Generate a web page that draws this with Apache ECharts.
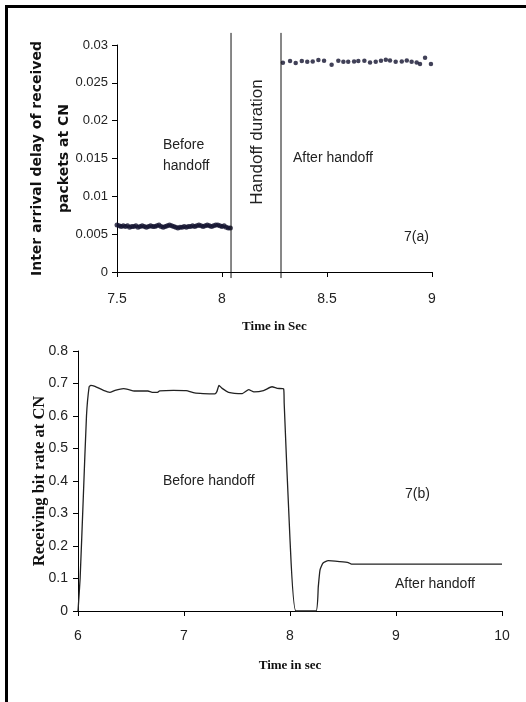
<!DOCTYPE html>
<html>
<head>
<meta charset="utf-8">
<script src="https://cdn.jsdelivr.net/npm/echarts@6/dist/echarts.min.js"></script>
<style>
  html, body { margin: 0; padding: 0; background: #fff; }
  #chart { width: 526px; height: 702px; }
  .frame { position: absolute; left: 5px; top: 5px; right: 0; bottom: 0; border-top: 3px solid #000; border-left: 3px solid #000; pointer-events: none; }
</style>
</head>
<body>
<div id="chart"></div>
<div class="frame"></div>
<script>
// 7(a) inter arrival delay, before handoff (dense samples)
const beforeX = [7.50,7.51,7.52,7.53,7.54,7.55,7.56,7.57,7.58,7.59,
  7.60,7.61,7.62,7.63,7.64,7.65,7.66,7.67,7.68,7.69,
  7.70,7.71,7.72,7.73,7.74,7.75,7.76,7.77,7.78,7.79,
  7.80,7.81,7.82,7.83,7.84,7.85,7.86,7.87,7.88,7.89,
  7.90,7.91,7.92,7.93,7.94,7.95,7.96,7.97,7.98,7.99,
  8.00,8.01,8.02,8.03,8.04]
const beforeY = [0.0062,0.0061,0.0060,0.0061,0.0060,0.0061,0.0059,0.0060,0.0060,0.0061,
  0.0059,0.0060,0.0061,0.0060,0.0059,0.0060,0.0061,0.0060,0.0060,0.0061,
  0.0062,0.0060,0.0059,0.0060,0.0061,0.0062,0.0061,0.0060,0.0059,0.0058,
  0.0059,0.0059,0.0060,0.0059,0.0060,0.0060,0.0061,0.0060,0.0061,0.0062,
  0.0061,0.0060,0.0061,0.0062,0.0061,0.0060,0.0061,0.0062,0.0062,0.0061,
  0.0060,0.0061,0.0059,0.0058,0.0058]

// 7(a) after handoff
const afterX = [8.290,8.324,8.351,8.380,8.406,8.432,8.459,8.486,8.522,8.554,
  8.578,8.601,8.629,8.649,8.678,8.705,8.732,8.757,8.780,8.800,
  8.827,8.856,8.880,8.903,8.927,8.943,8.967,8.995]
const afterY = [0.02765,0.02790,0.02762,0.02788,0.02779,0.02783,0.02801,0.02792,0.02740,0.02792,
  0.02779,0.02779,0.02783,0.02788,0.02792,0.02769,0.02779,0.02792,0.02805,0.02796,
  0.02779,0.02783,0.02796,0.02779,0.02769,0.02750,0.02830,0.02750]

// handoff boundaries in 7(a)
const handoffStart = 8.043
const handoffEnd = 8.281

// 7(b) receiving bit rate
const rateX = [6.00,6.02,6.05,6.08,6.105,6.12,6.16,6.24,6.30,6.35,6.43,6.48,6.53,6.66,6.70,6.75,6.77,
  6.90,7.02,7.10,7.18,7.29,7.31,7.33,7.36,7.42,7.55,7.61,7.66,7.75,7.83,7.88,7.94,
  7.945,8.00,8.055,8.245,8.267,8.283,8.31,8.36,8.47,8.55,8.58,9.00,10.00]
const rateY = [0,0.10,0.35,0.60,0.690,0.694,0.691,0.679,0.673,0.679,0.684,0.681,0.677,0.677,0.673,0.673,0.677,
  0.679,0.678,0.671,0.669,0.668,0.675,0.694,0.685,0.673,0.669,0.681,0.674,0.678,0.690,0.685,0.683,
  0.640,0.220,0,0,0.075,0.126,0.147,0.155,0.152,0.149,0.144,0.144,0.144]

const tickFont = "'Liberation Sans', Arial, sans-serif"
const boldSerif = "'Liberation Serif', 'Times New Roman', serif"

const zip = (xs, ys) => xs.map((x, i) => [x, ys[i]])

const axisBase = () => ({
  axisLine: { show: true, onZero: false, lineStyle: { color: '#000', width: 1 } },
  axisTick: { show: true, length: 5, lineStyle: { color: '#000', width: 1 } },
  splitLine: { show: false },
  axisLabel: { color: '#222', fontFamily: tickFont, fontSize: 14 },
  nameMoveOverlap: false,
})

const chart = echarts.init(document.getElementById('chart'))

const annText = (left, top, text, extra) => ({
  type: 'text', left, top,
  style: { text, fill: '#222', font: "14px " + tickFont, lineHeight: 21, ...(extra || {}) },
})

const option = {
  animation: false,
  backgroundColor: '#fff',
  grid: [
    { left: 117, top: 45, width: 315, height: 227 },
    { left: 78, top: 351, width: 424, height: 260 },
  ],
  xAxis: [
    {
      type: 'value', gridIndex: 0, min: 7.5, max: 9, interval: 0.5,
      ...axisBase(),
      axisLabel: { ...axisBase().axisLabel, margin: 20 },
      name: 'Time in Sec', nameLocation: 'middle', nameGap: 48,
      nameTextStyle: { fontFamily: boldSerif, fontWeight: 'bold', fontSize: 13, color: '#111' },
    },
    {
      type: 'value', gridIndex: 1, min: 6, max: 10, interval: 1,
      ...axisBase(),
      axisLabel: { ...axisBase().axisLabel, margin: 18 },
      name: 'Time in sec', nameLocation: 'middle', nameGap: 48,
      nameTextStyle: { fontFamily: boldSerif, fontWeight: 'bold', fontSize: 13, color: '#111' },
    },
  ],
  yAxis: [
    {
      type: 'value', gridIndex: 0, min: 0, max: 0.03, interval: 0.005,
      ...axisBase(),
      axisLabel: { ...axisBase().axisLabel, fontSize: 13, margin: 9 },
      name: 'Inter arrival delay of received\npackets at CN', nameLocation: 'middle', nameGap: 39,
      nameTextStyle: {
        fontFamily: "'DejaVu Sans', Verdana, sans-serif", fontWeight: 'bold', fontSize: 14,
        color: '#111', lineHeight: 27, align: 'center',
      },
    },
    {
      type: 'value', gridIndex: 1, min: 0, max: 0.8, interval: 0.1,
      ...axisBase(),
      axisLabel: { ...axisBase().axisLabel, margin: 10 },
      name: 'Receiving bit rate at CN', nameLocation: 'middle', nameGap: 30,
      nameTextStyle: { fontFamily: boldSerif, fontWeight: 'bold', fontSize: 16.5, color: '#111' },
    },
  ],
  series: [
    {
      type: 'scatter', xAxisIndex: 0, yAxisIndex: 0, symbol: 'circle', symbolSize: 5,
      itemStyle: { color: '#12122e' }, data: zip(beforeX, beforeY),
    },
    {
      type: 'scatter', xAxisIndex: 0, yAxisIndex: 0, symbol: 'circle', symbolSize: 4.5,
      itemStyle: { color: '#12122e' }, data: zip(afterX, afterY),
    },
    {
      type: 'line', xAxisIndex: 0, yAxisIndex: 0, clip: false, symbol: 'none',
      lineStyle: { color: '#111', width: 1 },
      data: [[handoffStart, -0.0008], [handoffStart, 0.0316]],
    },
    {
      type: 'line', xAxisIndex: 0, yAxisIndex: 0, clip: false, symbol: 'none',
      lineStyle: { color: '#111', width: 1 },
      data: [[handoffEnd, -0.0008], [handoffEnd, 0.0316]],
    },
    {
      type: 'line', xAxisIndex: 1, yAxisIndex: 1, symbol: 'none', smooth: 0.15,
      lineStyle: { color: '#222', width: 1.3 },
      data: zip(rateX, rateY),
    },
  ],
  graphic: [
    annText(163, 135, 'Before\nhandoff'),
    annText(293, 148, 'After handoff'),
    annText(404, 227, '7(a)'),
    {
      type: 'text', x: 257, y: 142, rotation: Math.PI / 2,
      style: { text: 'Handoff duration', fill: '#222', font: "17px " + tickFont, align: 'center', verticalAlign: 'middle' },
    },
    annText(163, 471, 'Before handoff'),
    annText(405, 484, '7(b)'),
    annText(395, 574, 'After handoff'),
  ],
}

chart.setOption(option)
</script>
</body>
</html>
